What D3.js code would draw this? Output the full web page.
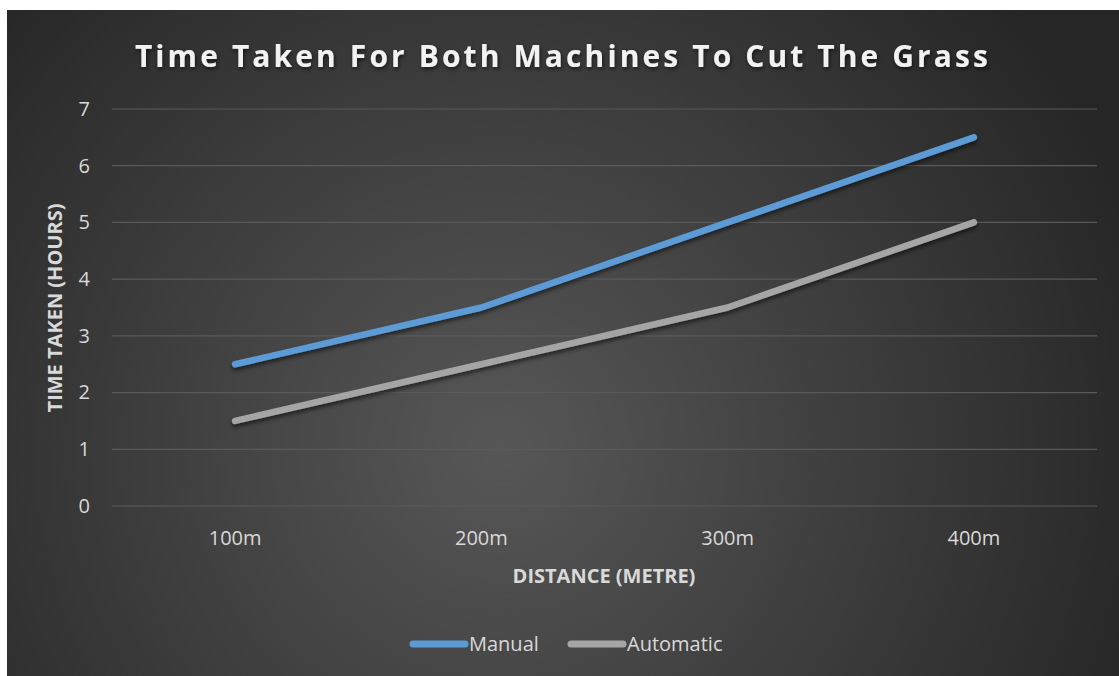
<!DOCTYPE html>
<html><head><meta charset="utf-8">
<script src="https://cdn.jsdelivr.net/npm/d3@7"></script>
<style>body{margin:0;background:#fff;}svg{display:block;font-family:"Open Sans",Lato,sans-serif;}</style>
</head><body><svg id="c" width="1119" height="676"></svg>
<script>
const categories = ["100m","200m","300m","400m"];
const manual = [2.5, 3.5, 5, 6.5];
const automatic = [1.5, 2.5, 3.5, 5];
const yTicks = [0,1,2,3,4,5,6,7];
const seriesNames = ["Manual","Automatic"];
const seriesColors = ["#5B9BD5","#A5A5A5"];

const svg = d3.select("#c");
const defs = svg.append("defs");
const rg = defs.append("radialGradient").attr("id","bg").attr("gradientUnits","userSpaceOnUse")
  .attr("cx",500).attr("cy",450).attr("r",680);
rg.append("stop").attr("offset","0").attr("stop-color","#575757");
rg.append("stop").attr("offset","1").attr("stop-color","#262626");
const f = defs.append("filter").attr("id","sh").attr("x","-10%").attr("y","-10%").attr("width","120%").attr("height","140%");
f.append("feDropShadow").attr("dx",0).attr("dy",3).attr("stdDeviation",2).attr("flood-color","#000").attr("flood-opacity",0.55);
const tf = defs.append("filter").attr("id","tsh").attr("x","-5%").attr("y","-20%").attr("width","110%").attr("height","150%");
tf.append("feDropShadow").attr("dx",1).attr("dy",2).attr("stdDeviation",2).attr("flood-color","#000").attr("flood-opacity",0.6);

svg.append("rect").attr("x",7).attr("y",10).attr("width",1112).attr("height",666).attr("fill","url(#bg)");

const x = d3.scaleBand().domain(categories).range([112,1097]);
const y = d3.scaleLinear().domain([0,7]).range([506,109]);

// gridlines
svg.append("g").selectAll("line").data(yTicks).join("line")
  .attr("x1",112).attr("x2",1097).attr("y1",d=>y(d)).attr("y2",d=>y(d))
  .attr("stroke","#5a5a5a").attr("stroke-width",1.2);

// y axis labels
const ya = svg.append("g").attr("transform","translate(90,0)")
  .call(d3.axisLeft(y).tickValues(yTicks).tickSize(0).tickPadding(0).tickFormat(d3.format("d")));
ya.select(".domain").remove();
ya.selectAll("text").attr("fill","#d9d9d9").style("font-size","20px").style("font-family","'Open Sans',sans-serif");

// x axis labels
const xa = svg.append("g").attr("transform","translate(0,531)")
  .call(d3.axisBottom(x).tickSize(0).tickPadding(0));
xa.select(".domain").remove();
xa.selectAll("text").attr("fill","#d9d9d9").style("font-size","20px").style("font-family","'Open Sans',sans-serif");

// lines
const line = d3.line().x((d,i)=>x(categories[i])+x.bandwidth()/2).y(d=>y(d));
[manual, automatic].forEach((s,i)=>{
  svg.append("path").datum(s).attr("d",line).attr("fill","none")
    .attr("stroke",seriesColors[i]).attr("stroke-width",6.5)
    .attr("stroke-linecap","round").attr("stroke-linejoin","round")
    .attr("filter","url(#sh)");
});

// title
svg.append("text").attr("x",563).attr("y",67).attr("text-anchor","middle")
  .attr("fill","#f2f2f2").style("font-size","30px").style("font-weight","bold")
  .style("letter-spacing","3.1px").attr("filter","url(#tsh)")
  .text("Time Taken For Both Machines To Cut The Grass");

// axis titles
svg.append("text").attr("x",604).attr("y",583).attr("text-anchor","middle")
  .attr("fill","#d9d9d9").style("font-size","20px").style("font-weight","bold")
  .text("DISTANCE (METRE)");
svg.append("text").attr("transform","translate(62,308) rotate(-90)").attr("text-anchor","middle")
  .attr("fill","#d9d9d9").style("font-size","20px").style("font-weight","bold")
  .text("TIME TAKEN (HOURS)");

// legend
const lx = [410, 568];
seriesNames.forEach((n,i)=>{
  svg.append("line").attr("x1",lx[i]+3).attr("x2",lx[i]+55).attr("y1",644).attr("y2",644)
    .attr("stroke",seriesColors[i]).attr("stroke-width",7).attr("stroke-linecap","round");
  svg.append("text").attr("x",lx[i]+59).attr("y",651).attr("fill","#d9d9d9")
    .style("font-size","20px").text(n);
});
</script></body></html>
